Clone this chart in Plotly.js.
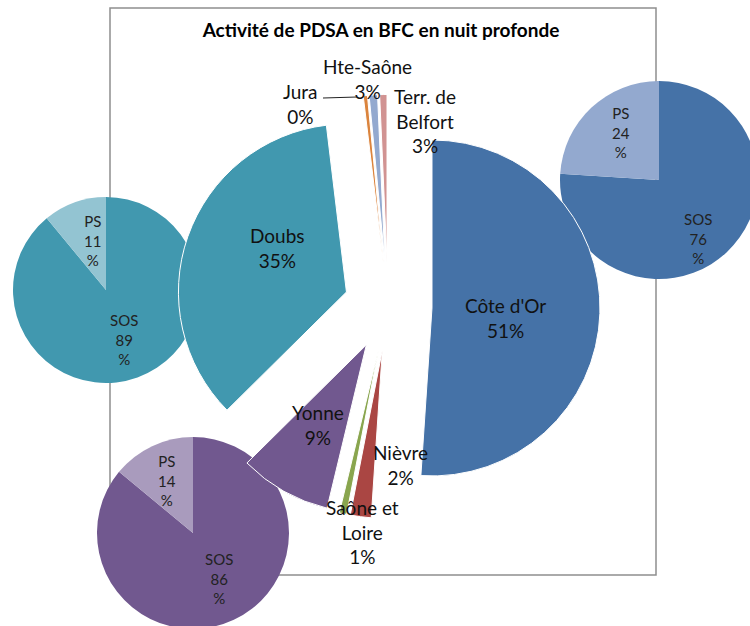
<!DOCTYPE html>
<html>
<head>
<meta charset="utf-8">
<script src="https://cdn.plot.ly/plotly-3.0.1.min.js"></script>
<style>
html,body{margin:0;padding:0;overflow:hidden;background:#fff}
#chart{width:760px;height:632px}
</style>
</head>
<body>
<div id="chart"></div>
<script>
// ---- Data ----
const regions = ["Côte d'Or", "Nièvre", "Saône et Loire", "Yonne", "Doubs", "Jura", "Hte-Saône", "Terr. de Belfort"];
const regionLabelLines = ["Côte d'Or", "Nièvre", "Saône et<br>Loire", "Yonne", "Doubs", "Jura", "Hte-Saône", "Terr. de<br>Belfort"];
const regionShares = [50.9, 2.0, 0.7, 8.8, 35.4, 0.4, 0.8, 0.7];
const regionPctLabels = ["51%", "2%", "1%", "9%", "35%", "0%", "3%", "3%"];
const regionColors = ["#4572A7", "#AA4643", "#89A54E", "#71588F", "#4198AF", "#DB843D", "#93A9CF", "#D19392"];

const subCategories = ["SOS", "PS"];
const coteDOrSplit = [76, 24];
const doubsSplit = [89, 11];
const yonneSplit = [86, 14];
const coteDOrColors = ["#4572A7", "#93A9CF"];
const doubsColors = ["#4198AF", "#93C4D2"];
const yonneColors = ["#71588F", "#A99BBD"];

const chartTitle = "Activité de PDSA en BFC en nuit profonde";

// ---- Layout helpers ----
const W = 760, H = 632;
function domainFor(cx, cy, half) {
  return {x: [(cx - half) / W, (cx + half) / W], y: [1 - (cy + half) / H, 1 - (cy - half) / H]};
}
const px = x => x / W;
const py = y => 1 - y / H;

function subPie(values, colors, dom) {
  return {
    type: 'pie', values: values, labels: subCategories, sort: false,
    direction: 'clockwise', rotation: 0, textinfo: 'none',
    marker: {colors: colors, line: {width: 0}},
    domain: dom, showlegend: false, hoverinfo: 'label+percent'
  };
}

const mainPull = 0.262;
const traces = [
  subPie(coteDOrSplit, coteDOrColors, domainFor(659, 180, 99)),
  subPie(doubsSplit, doubsColors, domainFor(106, 290, 93)),
  subPie(yonneSplit, yonneColors, domainFor(193, 533, 96)),
  {
    type: 'pie', values: regionShares, labels: regions, sort: false,
    direction: 'clockwise', rotation: 0, textinfo: 'none',
    pull: regions.map(() => mainPull),
    marker: {colors: regionColors, line: {color: '#ffffff', width: 1}},
    domain: domainFor(388, 306.5, 168 * (1 + mainPull)),
    showlegend: false, hoverinfo: 'label+percent'
  }
];

// label positions (pixels)
const mainLabelPos = [[505, 318], [400, 465], [362, 532], [318, 425], [277, 247.5], [300, 104], [367, 79], [425, 121]];
const annotations = regions.map((r, i) => ({
  xref: 'paper', yref: 'paper', x: px(mainLabelPos[i][0]), y: py(mainLabelPos[i][1]),
  xanchor: 'center', yanchor: 'middle', showarrow: false,
  text: regionLabelLines[i] + '<br>' + regionPctLabels[i],
  font: {family: 'Lato, sans-serif', size: 19, color: '#111'}
}));

const subSets = [
  {vals: coteDOrSplit, pos: [[698, 238], [621, 132]]},
  {vals: doubsSplit, pos: [[124, 339], [92, 240]]},
  {vals: yonneSplit, pos: [[219, 578], [167, 481]]}
];
subSets.forEach(s => {
  subCategories.forEach((c, j) => {
    annotations.push({
      xref: 'paper', yref: 'paper', x: px(s.pos[j][0]), y: py(s.pos[j][1]),
      xanchor: 'center', yanchor: 'middle', showarrow: false,
      text: c + '<br>' + s.vals[j] + '<br>%',
      font: {family: 'Lato, sans-serif', size: 15, color: '#222'}
    });
  });
});

const layout = {
  width: W, height: H,
  margin: {l: 0, r: 0, t: 0, b: 0},
  paper_bgcolor: '#ffffff', plot_bgcolor: '#ffffff',
  showlegend: false,
  title: {
    text: chartTitle, x: px(381), y: py(30), xref: 'paper', yref: 'paper',
    xanchor: 'center', yanchor: 'middle',
    font: {family: 'Lato, sans-serif', size: 19, weight: 700, color: '#000'}
  },
  annotations: annotations,
  shapes: [
    {type: 'rect', xref: 'paper', yref: 'paper', x0: px(110), x1: px(656), y0: py(575), y1: py(8),
     line: {color: '#8e8e8e', width: 1.5}, layer: 'below'},
    {type: 'line', xref: 'paper', yref: 'paper', x0: px(323), x1: px(357), y0: py(98), y1: py(97),
     line: {color: '#222', width: 1}}
  ]
};

Plotly.newPlot('chart', traces, layout, {staticPlot: true, displayModeBar: false});
</script>
</body>
</html>
